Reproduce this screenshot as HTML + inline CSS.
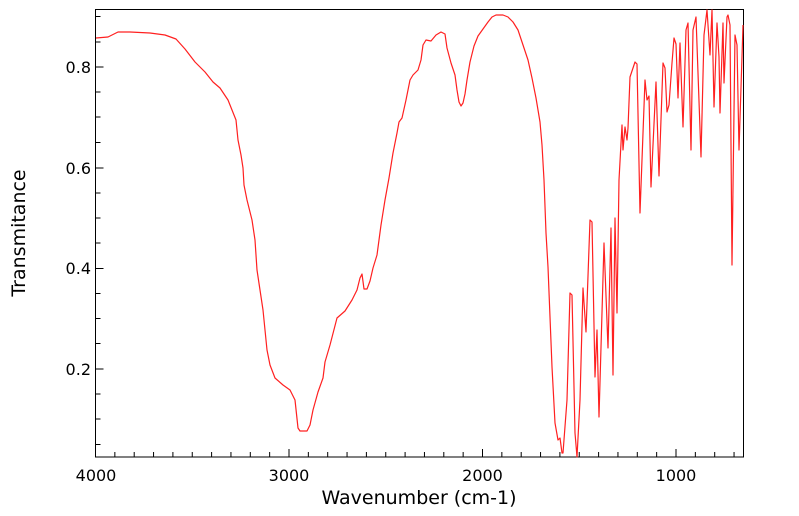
<!DOCTYPE html>
<html><head><meta charset="utf-8"><style>
html,body{margin:0;padding:0;background:#fff;}
svg{display:block;font-family:"DejaVu Sans","Liberation Sans",sans-serif;}
</style></head><body>
<svg width="799" height="516" viewBox="0 0 799 516">
<rect x="0" y="0" width="799" height="516" fill="#fff"/>
<g stroke="#000" stroke-width="1">
<rect x="95.5" y="9.5" width="648" height="447.5" fill="none"/>
<path d="M95.5 457v-8M289 457v-8M482.5 457v-8M676 457v-8
M114.85 457v-5M134.2 457v-5M153.55 457v-5M172.9 457v-5M192.25 457v-5M211.6 457v-5M230.95 457v-5M250.3 457v-5M269.65 457v-5
M308.35 457v-5M327.7 457v-5M347.05 457v-5M366.4 457v-5M385.75 457v-5M405.1 457v-5M424.45 457v-5M443.8 457v-5M463.15 457v-5
M501.85 457v-5M521.2 457v-5M540.55 457v-5M559.9 457v-5M579.25 457v-5M598.6 457v-5M617.95 457v-5M637.3 457v-5M656.65 457v-5
M695.35 457v-5M714.7 457v-5M734.05 457v-5"/>
<path d="M95.5 67h8M95.5 168h8M95.5 268.5h8M95.5 369h8
M95.5 16.5h5M95.5 42h5M95.5 92h5M95.5 117h5M95.5 142.5h5M95.5 193h5M95.5 218h5M95.5 243h5M95.5 293.5h5M95.5 318.5h5M95.5 343.5h5M95.5 394h5M95.5 419h5M95.5 444.5h5"/>
</g>
<g font-size="16" fill="#000">
<text x="91" y="73" text-anchor="end">0.8</text>
<text x="91" y="174" text-anchor="end">0.6</text>
<text x="91" y="274" text-anchor="end">0.4</text>
<text x="91" y="375" text-anchor="end">0.2</text>
<text x="96" y="481" text-anchor="middle">4000</text>
<text x="289" y="481" text-anchor="middle">3000</text>
<text x="482.5" y="481" text-anchor="middle">2000</text>
<text x="676" y="481" text-anchor="middle">1000</text>
</g>
<g font-size="19" fill="#000">
<text x="419" y="504" text-anchor="middle">Wavenumber (cm-1)</text>
<text transform="translate(25,233) rotate(-90)" text-anchor="middle">Transmitance</text>
</g>
<polyline fill="none" stroke="#ff2020" stroke-width="1.2" stroke-linejoin="round" points="
96,38 108,37 118,32 130,32 150,33 165,35 176,39 185,49 195,62 205,72 213,82 220,88 228,100 234,115 236,120 238,140 241,155 243,168 244,185 247,200 252,220 255,240 257,270 260,290 263,310 265,330 267,350 270,365 275,378 283,385 290,390 295,400 298,428 300,431 307,431 310,425 313,410 318,392 323,378 325,362 330,345 337,318 345,311 352,300 357,290 360,278 362,274 364,289 367,289 370,281 373,268 377,255 381,225 385,200 389,178 393,153 397,133 399,122 402,118 406,100 410,80 413,75 418,70 421,60 423,45 426,40 431,41 436,35 441,32 445,34 447,48 451,63 455,75 457,90 459,102 461,106 463,103 465,94 467,80 470,62 474,46 478,36 483,29 488,22 492,17 496,15 503,15 508,17 513,22 518,30 523,45 528,60 532,78 536,98 540,122 542,145 544,180 546,233 548,267 552,367 555,423 558,440 560,438 562,453 563,453 567,400 570,293 572,295 575,433 577,457 580,400 583,288 586,332 590,220 592,222 595,377 597,330 599,417 604,243 608,348 611,228 613,375 615,218 617,313 619,180 622,125 623,150 625,127 627,140 628,128 630,77 635,62 637,64 640,213 645,80 647,100 649,96 651,187 656,82 659,176 663,63 665,68 667,112 669,105 672,63 674,38 676,44 678,98 680,43 683,127 686,30 688,23 691,150 693,30 696,17 701,157 704,35 707,10 710,55 712,10 714,107 717,23 719,57 720,113 723,23 724,83 727,17 728,15 730,25 732,265 735,35 737,45 739,150 743,25"/>
</svg>
</body></html>
